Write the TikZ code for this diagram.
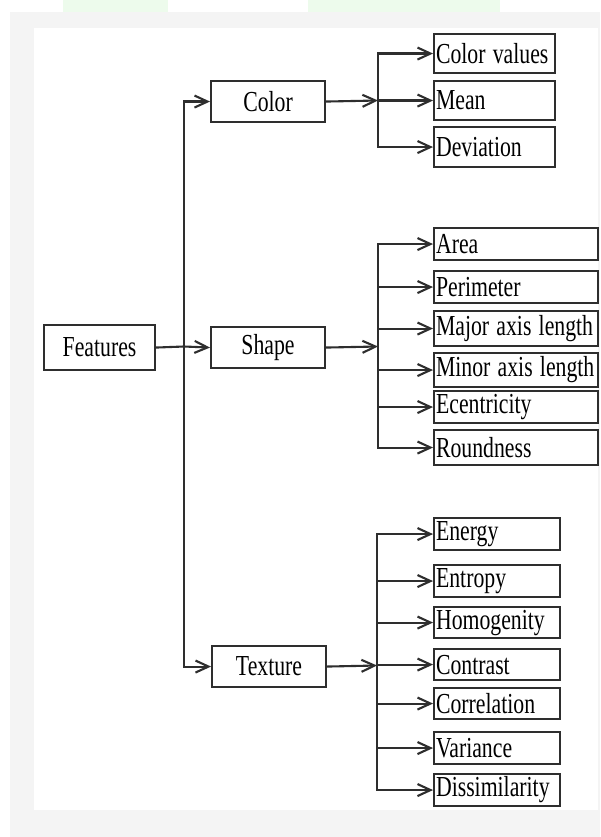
\documentclass[tikz,border=0pt]{standalone}
\usepackage{fontspec}
\usepackage{graphicx}
\setmainfont{Liberation Serif}
\usetikzlibrary{arrows.meta}
\definecolor{lc}{HTML}{2E2E2E}
\definecolor{bggray}{HTML}{F4F4F4}
\definecolor{paleg}{HTML}{EDFBEC}
\newcommand{\tx}[1]{\scalebox{0.75}[1]{#1}}
\begin{document}
\begin{tikzpicture}[x=1pt,y=-1pt,
  box/.style={draw=lc, line width=2.1pt, fill=white, inner sep=0pt,
    font=\fontsize{29}{30}\selectfont},
  mainbox/.style={box, anchor=north west, minimum width=114, minimum height=41},
  sub/.style={box, anchor=north west, align=left, inner xsep=2pt},
  ln/.style={draw=lc, line width=2.1pt},
  arr/.style={draw=lc, line width=2.1pt, line join=miter,
    -{Straight Barb[length=13pt,width=12pt,line width=2.1pt]}}]
\useasboundingbox (0,0) rectangle (600,837);
% background
\fill[white] (0,0) rectangle (600,837);
\fill[paleg] (63,0) rectangle (168,12);
\fill[paleg] (308,0) rectangle (500,12);
\fill[bggray] (10,12) rectangle (600,837);
\fill[white] (34,28) rectangle (598,810);
% main nodes
\node[box, anchor=north west, minimum width=111, minimum height=45] (feat) at (43,324) {\tx{Features}};
\node[mainbox] (color) at (210,80) {\tx{Color}};
\node[mainbox] (shape) at (210,326) {\tx{Shape}};
\node[mainbox] (tex) at (211,645) {\tx{Texture}};
% color children
\node[sub, minimum height=39, text width=117] (cv) at (433,33) {\tx{Color values}};
\node[sub, minimum height=39, text width=117] (mean) at (433,80) {\tx{Mean}};
\node[sub, minimum height=40, text width=117] (dev) at (433,126) {\tx{Deviation}};
% shape children
\node[sub, minimum height=32, text width=160] (area) at (433,227) {\tx{Area}};
\node[sub, minimum height=32, text width=160] (peri) at (433,270) {\tx{Perimeter}};
\node[sub, minimum height=35, text width=160] (major) at (433,310) {\tx{Major axis length}};
\node[sub, minimum height=34, text width=160] (minor) at (433,352) {\tx{Minor axis length}};
\node[sub, minimum height=32, text width=160] (ecc) at (433,390) {\tx{Ecentricity}};
\node[sub, minimum height=35, text width=160] (round) at (433,429) {\tx{Roundness}};
% texture children
\node[sub, minimum height=32, text width=122] (energy) at (433,517) {\tx{Energy}};
\node[sub, minimum height=32, text width=122] (entropy) at (433,564) {\tx{Entropy}};
\node[sub, minimum height=31, text width=122] (homo) at (433,606) {\tx{Homogenity}};
\node[sub, minimum height=31, text width=122] (contrast) at (433,648) {\tx{Contrast}};
\node[sub, minimum height=31, text width=122] (corr) at (433,687) {\tx{Correlation}};
\node[sub, minimum height=32, text width=122] (var) at (433,731) {\tx{Variance}};
\node[sub, minimum height=32, text width=122] (diss) at (433,773) {\tx{Dissimilarity}};
% trunk
\coordinate (tr) at (184,346.5);
\draw[ln] (feat.east) -- (tr);
\draw[arr] (tr) -- (shape.west);
\draw[arr] (tr) |- (color.west);
\draw[arr] (tr) |- (tex.west);
% color branch
\coordinate (cb) at (378,100.5);
\draw[arr] (color.east) -- (cb);
\foreach \n in {cv,mean,dev} \draw[arr] (cb) |- (\n.west);
% shape branch
\coordinate (sb) at (378,346.5);
\draw[arr] (shape.east) -- (sb);
\foreach \n in {area,peri,major,minor,ecc,round} \draw[arr] (sb) |- (\n.west);
% texture branch
\coordinate (tb) at (377,665.5);
\draw[arr] (tex.east) -- (tb);
\foreach \n in {energy,entropy,homo,contrast,corr,var,diss} \draw[arr] (tb) |- (\n.west);
\end{tikzpicture}
\end{document}
